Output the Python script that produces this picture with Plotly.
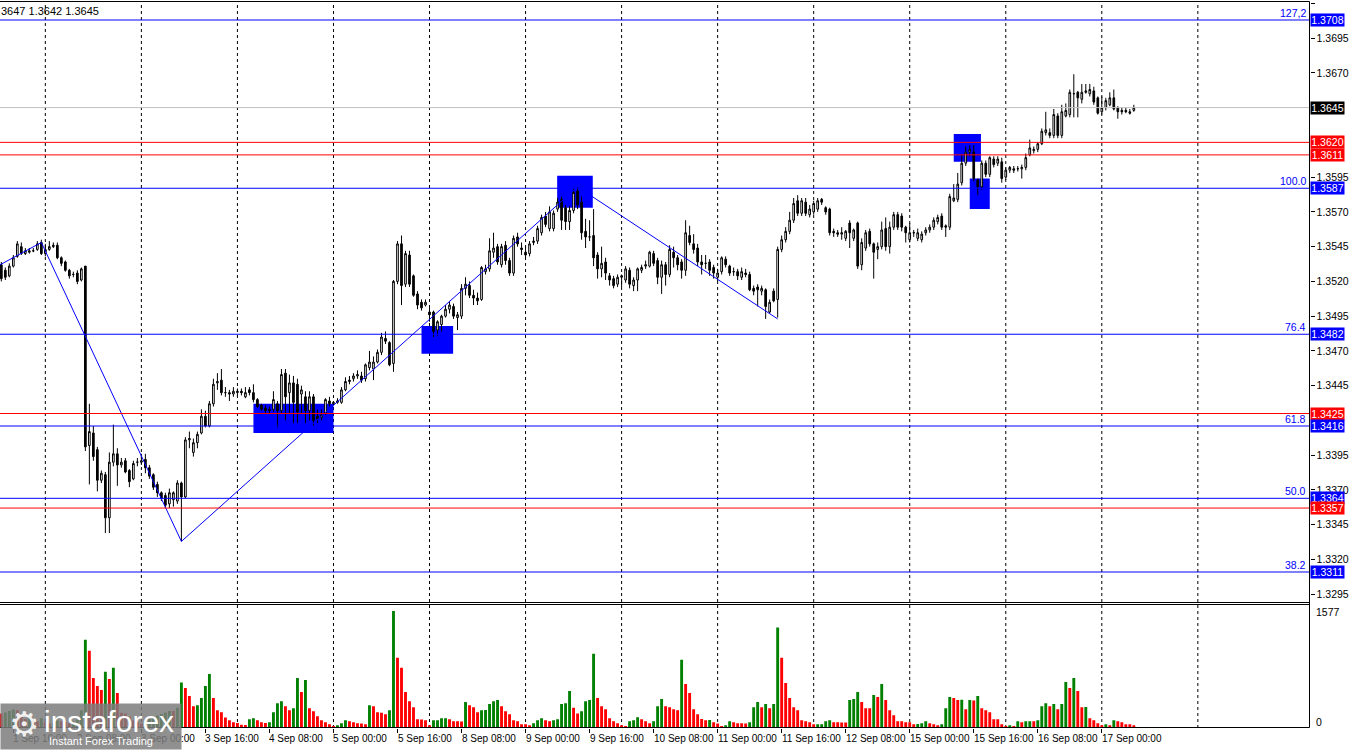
import plotly.graph_objects as go

# ---------------- data (H1 bars, index 0 = 2 Sep 00:00) ----------------
first_bar = -11

opens = [
    1.3532,1.3528,1.3524,1.3531,1.3538,1.3545,1.3540,1.3541,1.3542,1.3543,
    1.3548,1.3540,1.3543,1.3545,1.3546,1.3537,1.3534,1.3528,1.3525,1.3526,
    1.3521,1.3531,1.3402,1.3411,1.3399,1.3377,1.3381,1.3350,1.3390,1.3396,
    1.3388,1.3391,1.3384,1.3378,1.3390,1.3390,1.3392,1.3386,1.3381,1.3374,
    1.3368,1.3366,1.3360,1.3363,1.3362,1.3375,1.3365,1.3406,1.3397,1.3404,
    1.3411,1.3423,1.3416,1.3432,1.3447,1.3449,1.3440,1.3440,1.3439,1.3440,
    1.3441,1.3437,1.3442,1.3440,1.3435,1.3431,1.3429,1.3428,1.3428,1.3432,
    1.3427,1.3454,1.3440,1.3447,1.3446,1.3439,1.3437,1.3427,1.3437,1.3423,
    1.3422,1.3425,1.3434,1.3432,1.3433,1.3433,1.3442,1.3448,1.3450,1.3452,
    1.3452,1.3450,1.3458,1.3457,1.3462,1.3469,1.3479,1.3476,1.3461,1.3520,
    1.3547,1.3518,1.3539,1.3524,1.3511,1.3505,1.3503,1.3498,1.3498,1.3485,
    1.3489,1.3495,1.3500,1.3502,1.3494,1.3495,1.3515,1.3517,1.3510,1.3508,
    1.3507,1.3527,1.3529,1.3541,1.3545,1.3532,1.3546,1.3535,1.3526,1.3552,
    1.3544,1.3541,1.3540,1.3548,1.3549,1.3555,1.3567,1.3558,1.3558,1.3572,
    1.3579,1.3573,1.3563,1.3571,1.3585,1.3577,1.3556,1.3552,1.3553,1.3539,
    1.3529,1.3534,1.3524,1.3522,1.3518,1.3523,1.3521,1.3528,1.3517,1.3521,
    1.3528,1.3531,1.3531,1.3540,1.3535,1.3523,1.3532,1.3525,1.3541,1.3537,
    1.3534,1.3528,1.3553,1.3547,1.3544,1.3534,1.3533,1.3534,1.3530,1.3523,
    1.3527,1.3536,1.3531,1.3527,1.3527,1.3523,1.3526,1.3525,1.3515,1.3516,
    1.3513,1.3514,1.3498,1.3513,1.3507,1.3543,1.3550,1.3556,1.3564,1.3578,
    1.3569,1.3577,1.3568,1.3570,1.3572,1.3579,1.3573,1.3572,1.3556,1.3555,
    1.3554,1.3551,1.3562,1.3551,1.3562,1.3532,1.3544,1.3556,1.3547,1.3543,
    1.3545,1.3558,1.3545,1.3559,1.3568,1.3567,1.3559,1.3550,1.3555,1.3551,
    1.3550,1.3555,1.3557,1.3559,1.3563,1.3567,1.3560,1.3559,1.3578,1.3579,
    1.3591,1.3605,1.3613,1.3613,1.3593,1.3588,1.3605,1.3597,1.3608,1.3605,
    1.3606,1.3595,1.3600,1.3601,1.3601,1.3601,1.3602,1.3611,1.3614,1.3615,
    1.3619,1.3627,1.3627,1.3625,1.3639,1.3625,1.3639,1.3640,1.3655,1.3656,
    1.3651,1.3656,1.3655,1.3657,1.3652,1.3642,1.3645,1.3647,1.3652,1.3645,
    1.3643,1.3643,1.3642,1.3643,
]
highs = [
    1.3534,1.3530,1.3533,1.3539,1.3549,1.3548,1.3544,1.3544,1.3544,1.3549,
    1.3550,1.3547,1.3549,1.3548,1.3548,1.3538,1.3535,1.3529,1.3527,1.3528,
    1.3530,1.3531,1.3432,1.3416,1.3401,1.3384,1.3383,1.3397,1.3417,1.3400,
    1.3393,1.3393,1.3385,1.3391,1.3393,1.3396,1.3396,1.3388,1.3382,1.3376,
    1.3369,1.3368,1.3371,1.3369,1.3377,1.3376,1.3408,1.3412,1.3407,1.3412,
    1.3428,1.3427,1.3434,1.3450,1.3454,1.3457,1.3444,1.3442,1.3444,1.3443,
    1.3443,1.3444,1.3444,1.3446,1.3436,1.3432,1.3431,1.3430,1.3441,1.3434,
    1.3457,1.3457,1.3453,1.3452,1.3450,1.3445,1.3441,1.3441,1.3439,1.3428,
    1.3428,1.3436,1.3437,1.3434,1.3436,1.3444,1.3451,1.3452,1.3454,1.3456,
    1.3455,1.3461,1.3470,1.3466,1.3471,1.3483,1.3484,1.3477,1.3521,1.3549,
    1.3553,1.3542,1.3542,1.3525,1.3513,1.3507,1.3507,1.3503,1.3499,1.3492,
    1.3496,1.3503,1.3506,1.3504,1.3498,1.3518,1.3523,1.3520,1.3514,1.3512,
    1.3531,1.3532,1.3551,1.3555,1.3547,1.3547,1.3549,1.3537,1.3553,1.3555,
    1.3548,1.3545,1.3549,1.3552,1.3560,1.3568,1.3570,1.3574,1.3571,1.3580,
    1.3581,1.3575,1.3574,1.3587,1.3588,1.3581,1.3565,1.3564,1.3572,1.3541,
    1.3545,1.3537,1.3526,1.3524,1.3525,1.3525,1.3531,1.3530,1.3523,1.3530,
    1.3532,1.3535,1.3542,1.3542,1.3537,1.3535,1.3534,1.3546,1.3545,1.3539,
    1.3536,1.3564,1.3560,1.3554,1.3547,1.3539,1.3539,1.3536,1.3532,1.3529,
    1.3538,1.3538,1.3532,1.3530,1.3529,1.3530,1.3529,1.3527,1.3517,1.3518,
    1.3517,1.3515,1.3507,1.3515,1.3545,1.3553,1.3559,1.3570,1.3580,1.3582,
    1.3580,1.3580,1.3575,1.3578,1.3580,1.3580,1.3574,1.3573,1.3558,1.3557,
    1.3559,1.3557,1.3564,1.3558,1.3563,1.3551,1.3557,1.3558,1.3548,1.3548,
    1.3563,1.3566,1.3563,1.3570,1.3570,1.3569,1.3560,1.3562,1.3557,1.3558,
    1.3556,1.3559,1.3561,1.3566,1.3568,1.3569,1.3561,1.3583,1.3590,1.3598,
    1.3611,1.3617,1.3618,1.3618,1.3594,1.3607,1.3607,1.3610,1.3610,1.3610,
    1.3609,1.3602,1.3603,1.3603,1.3603,1.3604,1.3612,1.3622,1.3617,1.3620,
    1.3630,1.3642,1.3630,1.3644,1.3641,1.3647,1.3648,1.3658,1.3669,1.3657,
    1.3662,1.3662,1.3662,1.3660,1.3653,1.3653,1.3652,1.3656,1.3658,1.3646,
    1.3645,1.3645,1.3644,1.3647,
]
lows = [
    1.3520,1.3521,1.3523,1.3530,1.3537,1.3539,1.3539,1.3540,1.3541,1.3542,
    1.3539,1.3538,1.3542,1.3544,1.3536,1.3531,1.3527,1.3522,1.3523,1.3518,
    1.3520,1.3398,1.3374,1.3391,1.3369,1.3375,1.3339,1.3339,1.3387,1.3373,
    1.3386,1.3382,1.3372,1.3377,1.3387,1.3388,1.3382,1.3378,1.3370,1.3365,
    1.3362,1.3357,1.3357,1.3358,1.3360,1.3333,1.3364,1.3400,1.3394,1.3400,
    1.3410,1.3415,1.3415,1.3430,1.3442,1.3438,1.3437,1.3434,1.3437,1.3438,
    1.3438,1.3436,1.3438,1.3433,1.3429,1.3427,1.3425,1.3425,1.3426,1.3415,
    1.3425,1.3420,1.3425,1.3418,1.3418,1.3425,1.3418,1.3420,1.3416,1.3418,
    1.3420,1.3424,1.3430,1.3431,1.3432,1.3432,1.3441,1.3446,1.3448,1.3450,
    1.3447,1.3448,1.3456,1.3449,1.3461,1.3467,1.3475,1.3459,1.3455,1.3518,
    1.3503,1.3516,1.3516,1.3509,1.3500,1.3499,1.3502,1.3491,1.3480,1.3481,
    1.3484,1.3494,1.3497,1.3493,1.3485,1.3493,1.3510,1.3508,1.3503,1.3503,
    1.3506,1.3525,1.3527,1.3537,1.3532,1.3530,1.3532,1.3524,1.3524,1.3545,
    1.3539,1.3537,1.3538,1.3546,1.3547,1.3553,1.3559,1.3556,1.3556,1.3570,
    1.3557,1.3557,1.3557,1.3569,1.3572,1.3550,1.3544,1.3549,1.3531,1.3522,
    1.3523,1.3521,1.3517,1.3515,1.3516,1.3516,1.3519,1.3515,1.3513,1.3513,
    1.3526,1.3529,1.3530,1.3531,1.3518,1.3511,1.3517,1.3523,1.3530,1.3528,
    1.3522,1.3524,1.3546,1.3540,1.3531,1.3525,1.3529,1.3524,1.3522,1.3520,
    1.3525,1.3530,1.3524,1.3524,1.3521,1.3521,1.3523,1.3513,1.3510,1.3502,
    1.3510,1.3493,1.3497,1.3505,1.3494,1.3541,1.3548,1.3554,1.3562,1.3567,
    1.3567,1.3567,1.3566,1.3568,1.3570,1.3575,1.3568,1.3553,1.3552,1.3552,
    1.3550,1.3549,1.3544,1.3549,1.3529,1.3528,1.3542,1.3545,1.3522,1.3536,
    1.3543,1.3542,1.3540,1.3557,1.3557,1.3556,1.3548,1.3548,1.3552,1.3549,
    1.3548,1.3553,1.3555,1.3557,1.3561,1.3557,1.3552,1.3557,1.3577,1.3577,
    1.3589,1.3603,1.3610,1.3592,1.3582,1.3586,1.3595,1.3595,1.3602,1.3603,
    1.3591,1.3593,1.3598,1.3598,1.3599,1.3594,1.3600,1.3610,1.3612,1.3613,
    1.3618,1.3625,1.3623,1.3623,1.3623,1.3623,1.3638,1.3638,1.3638,1.3638,
    1.3648,1.3655,1.3653,1.3647,1.3640,1.3640,1.3643,1.3646,1.3643,1.3637,
    1.3640,1.3641,1.3640,1.3642,
]
closes = [
    1.3522,1.3523,1.3531,1.3537,1.3547,1.3540,1.3542,1.3542,1.3542,1.3547,
    1.3540,1.3543,1.3545,1.3546,1.3537,1.3533,1.3528,1.3524,1.3525,1.3520,
    1.3529,1.3401,1.3412,1.3394,1.3377,1.3382,1.3350,1.3390,1.3396,1.3388,
    1.3390,1.3383,1.3376,1.3389,1.3390,1.3391,1.3386,1.3380,1.3372,1.3368,
    1.3364,1.3359,1.3368,1.3368,1.3375,1.3365,1.3406,1.3407,1.3404,1.3410,
    1.3423,1.3416,1.3432,1.3446,1.3448,1.3440,1.3440,1.3439,1.3441,1.3441,
    1.3440,1.3440,1.3440,1.3435,1.3430,1.3428,1.3427,1.3427,1.3435,1.3427,
    1.3453,1.3437,1.3447,1.3433,1.3426,1.3442,1.3427,1.3437,1.3420,1.3421,
    1.3424,1.3435,1.3432,1.3433,1.3434,1.3442,1.3448,1.3449,1.3452,1.3453,
    1.3449,1.3460,1.3462,1.3462,1.3469,1.3480,1.3477,1.3460,1.3520,1.3547,
    1.3517,1.3540,1.3518,1.3510,1.3503,1.3501,1.3505,1.3496,1.3484,1.3491,
    1.3495,1.3500,1.3503,1.3495,1.3496,1.3515,1.3518,1.3510,1.3508,1.3506,
    1.3530,1.3529,1.3542,1.3544,1.3534,1.3545,1.3535,1.3526,1.3551,1.3547,
    1.3543,1.3539,1.3547,1.3549,1.3558,1.3566,1.3561,1.3570,1.3569,1.3577,
    1.3564,1.3563,1.3571,1.3584,1.3575,1.3555,1.3552,1.3552,1.3537,1.3529,
    1.3533,1.3526,1.3521,1.3517,1.3523,1.3524,1.3529,1.3518,1.3521,1.3529,
    1.3530,1.3532,1.3541,1.3533,1.3523,1.3532,1.3525,1.3543,1.3537,1.3532,
    1.3528,1.3555,1.3548,1.3543,1.3534,1.3532,1.3533,1.3528,1.3526,1.3526,
    1.3537,1.3532,1.3526,1.3527,1.3524,1.3527,1.3525,1.3514,1.3513,1.3514,
    1.3515,1.3502,1.3505,1.3506,1.3543,1.3550,1.3556,1.3564,1.3576,1.3569,
    1.3578,1.3569,1.3572,1.3576,1.3578,1.3577,1.3570,1.3555,1.3555,1.3554,
    1.3555,1.3556,1.3555,1.3557,1.3531,1.3548,1.3555,1.3547,1.3541,1.3545,
    1.3557,1.3545,1.3559,1.3568,1.3559,1.3559,1.3555,1.3555,1.3555,1.3555,
    1.3554,1.3557,1.3559,1.3564,1.3566,1.3559,1.3559,1.3581,1.3580,1.3590,
    1.3605,1.3613,1.3615,1.3594,1.3588,1.3605,1.3597,1.3609,1.3604,1.3608,
    1.3594,1.3600,1.3602,1.3600,1.3601,1.3602,1.3609,1.3616,1.3615,1.3619,
    1.3628,1.3629,1.3625,1.3640,1.3625,1.3642,1.3643,1.3656,1.3655,1.3652,
    1.3656,1.3657,1.3658,1.3649,1.3641,1.3645,1.3650,1.3652,1.3644,1.3642,
    1.3642,1.3642,1.3641,1.3645,
]
volumes = [
    195,210,230,250,240,160,120,140,110,90,130,
    80,60,70,100,90,80,70,90,110,240,
    1191,1042,675,566,512,757,661,811,471,204,
    195,150,104,82,59,100,120,150,170,190,
    210,230,228,272,612,539,430,294,308,403,
    566,729,403,240,213,140,104,77,68,45,
    40,118,131,104,77,68,77,213,335,362,
    294,240,267,675,485,648,267,226,159,104,
    77,50,23,36,63,104,91,77,63,62,
    50,308,294,213,204,186,240,1577,947,811,
    485,362,281,118,115,104,36,104,105,131,
    132,118,91,90,89,349,308,281,213,240,
    241,322,362,376,294,226,186,104,91,50,
    49,36,63,104,131,104,91,104,118,322,
    335,498,272,195,226,362,376,1001,403,294,
    254,131,91,63,36,23,91,104,145,118,
    91,63,91,294,390,294,281,254,240,920,
    594,471,254,186,120,104,108,77,60,23,
    36,91,77,64,63,62,77,281,349,281,
    322,267,322,1355,947,607,403,281,240,104,
    91,77,50,51,52,91,104,77,76,75,
    74,376,390,485,349,267,266,444,417,594,
    376,240,172,91,90,77,76,50,54,63,
    91,63,50,36,50,267,417,403,376,380,
    254,376,370,430,267,240,213,118,117,50,
    23,36,23,91,77,91,92,90,104,294,
    335,294,322,254,322,621,539,675,498,281,
    282,131,104,63,36,50,36,104,91,77,
    50,49,36,
]

label_bars = [-8, 8, 24, 40, 56, 72, 88, 104, 120, 136, 152, 168, 184, 200, 216, 232, 248, 264]
label_texts = ["1 Sep 16:00", "2 Sep 08:00", "3 Sep 00:00", "3 Sep 16:00", "4 Sep 08:00",
               "5 Sep 00:00", "5 Sep 16:00", "8 Sep 08:00", "9 Sep 00:00", "9 Sep 16:00",
               "10 Sep 08:00", "11 Sep 00:00", "11 Sep 16:00", "12 Sep 08:00",
               "15 Sep 00:00", "15 Sep 16:00", "16 Sep 08:00", "17 Sep 00:00"]
grid_bars = [0, 24, 48, 72, 96, 120, 144, 168, 192, 216, 240, 264, 288]

price_ticks = [1.3295, 1.3320, 1.3345, 1.3370, 1.3395, 1.3420, 1.3445, 1.3470, 1.3495,
               1.3520, 1.3545, 1.3570, 1.3595, 1.3620, 1.3645, 1.3670, 1.3695, 1.3720]
# tick labels that sit under a level box are not shown in the reference
hidden_ticks = [1.3420, 1.3620, 1.3645]

# horizontal levels: (price, colour)
level_prices = [1.3708, 1.3645, 1.3620, 1.3611, 1.3587, 1.3482, 1.3425, 1.3416, 1.3364, 1.3357, 1.3311]
level_colors = ["#0000ff", "#c0c0c0", "#ff0000", "#ff0000", "#0000ff", "#0000ff",
                "#ff0000", "#0000ff", "#0000ff", "#ff0000", "#0000ff"]
label_bg = ["#0000ff", "#000000", "#ff0000", "#ff0000", "#0000ff", "#0000ff",
            "#ff0000", "#0000ff", "#0000ff", "#ff0000", "#0000ff"]

fib_texts = ["127,2", "100.0", "76.4", "61.8", "50.0", "38.2"]
fib_prices = [1.3708, 1.3587, 1.3482, 1.3416, 1.3364, 1.3311]

# zigzag (bar, price)
zig_bars = [-11.3, -1, 34, 133, 183]
zig_prices = [1.3532, 1.3548, 1.3333, 1.3588, 1.3493]

# blue zones: bar from, bar to, price low, price high
zone_bar0 = [52.0, 94.0, 127.9, 227.0, 231.0]
zone_bar1 = [72.0, 101.9, 136.8, 233.8, 236.0]
zone_lo = [1.3411, 1.3468, 1.3573, 1.3606, 1.3572]
zone_hi = [1.3432, 1.3488, 1.3596, 1.3626, 1.3594]

header_text = "3647 1.3642 1.3645"
vol_max_label = "1577"

# ---------------- figure ----------------
W, H = 1350, 750
AX_X = 1309.5 / W
X_RANGE = [-11.33, 315.9]
P_DOM = [(750 - 602) / 750, (750 - 2) / 750]
V_DOM = [(750 - 728) / 750, (750 - 605) / 750]
P_RANGE = [1.328943, 1.372095]
V_RANGE = [0, 1658]
FONT = "Liberation Sans, Arial, sans-serif"


def py(pixel_row):
    return (H - pixel_row) / H


bars = list(range(first_bar, first_bar + len(closes)))
vol_colors = ["#ff0000"]
for i in range(1, len(volumes)):
    vol_colors.append("#008000" if volumes[i] > volumes[i - 1] else "#ff0000")

fig = go.Figure()
fig.add_trace(go.Candlestick(
    x=bars, open=opens, high=highs, low=lows, close=closes,
    increasing=dict(line=dict(color="black", width=1), fillcolor="white"),
    decreasing=dict(line=dict(color="black", width=1), fillcolor="black"),
    whiskerwidth=0, hoverinfo="skip", showlegend=False, xaxis="x", yaxis="y"))
fig.add_trace(go.Scatter(x=zig_bars, y=zig_prices, mode="lines",
                         line=dict(color="#0000ff", width=1), hoverinfo="skip",
                         showlegend=False, xaxis="x", yaxis="y"))
fig.add_trace(go.Bar(x=bars, y=volumes, marker=dict(color=vol_colors, line=dict(width=0)),
                     width=0.72, hoverinfo="skip", showlegend=False, xaxis="x2", yaxis="y2"))

shapes = []
for g in grid_bars:
    shapes.append(dict(type="line", xref="x", yref="paper", x0=g, x1=g,
                       y0=V_DOM[0], y1=P_DOM[1], layer="below",
                       line=dict(color="black", width=1, dash="3px,3px")))
for b0, b1, lo, hi in zip(zone_bar0, zone_bar1, zone_lo, zone_hi):
    shapes.append(dict(type="rect", xref="x", yref="y", x0=b0, x1=b1, y0=lo, y1=hi,
                       fillcolor="#0000ff", line=dict(width=0), layer="below"))
for p, c in zip(level_prices, level_colors):
    shapes.append(dict(type="line", xref="paper", yref="y", x0=0, x1=AX_X, y0=p, y1=p,
                       line=dict(color=c, width=1), layer="above"))
# frame (half-pixel rows keep the 1px lines crisp)
for row in [1.5, 602.5, 604.5, 727.5]:
    shapes.append(dict(type="line", xref="paper", yref="paper", x0=0, x1=AX_X,
                       y0=py(row), y1=py(row), line=dict(color="black", width=1), layer="above"))
shapes.append(dict(type="line", xref="paper", yref="paper", x0=AX_X, x1=AX_X,
                   y0=py(727.5), y1=py(1.5), line=dict(color="black", width=1), layer="above"))

ann = []
for b, t in zip(label_bars, label_texts):
    ann.append(dict(x=b, xref="x", y=py(738), yref="paper", text=t,
                    xanchor="left", yanchor="middle", showarrow=False, xshift=-2,
                    font=dict(family=FONT, size=10, color="black")))
for p, bg in zip(level_prices, label_bg):
    ann.append(dict(x=1310 / W, xref="paper", y=p, yref="y", text=f"{p:.4f}",
                    xanchor="left", yanchor="middle", showarrow=False,
                    bgcolor=bg, width=33, height=12, borderpad=0, align="center",
                    font=dict(family=FONT, size=10.5, color="white")))
for t, p in zip(fib_texts, fib_prices):
    ann.append(dict(x=1307 / W, xref="paper", y=p, yref="y", text=t,
                    xanchor="right", yanchor="bottom", showarrow=False, borderpad=0,
                    font=dict(family=FONT, size=10.5, color="#0000ff")))
ann.append(dict(x=0, xref="paper", y=py(11), yref="paper", text=header_text,
                xanchor="left", yanchor="middle", showarrow=False, xshift=-1,
                font=dict(family=FONT, size=11, color="black")))
ann.append(dict(x=1314 / W, xref="paper", y=py(612), yref="paper", text=vol_max_label,
                xanchor="left", yanchor="middle", showarrow=False,
                font=dict(family=FONT, size=10.5, color="black")))
ann.append(dict(x=1314 / W, xref="paper", y=py(722), yref="paper", text="0",
                xanchor="left", yanchor="middle", showarrow=False,
                font=dict(family=FONT, size=10.5, color="black")))
# watermark logo
ann.append(dict(x=0, xref="paper", y=0, yref="paper", text=" ", xanchor="left",
                yanchor="bottom", showarrow=False, width=180, height=45, borderpad=0,
                bgcolor="rgba(125,125,125,0.85)"))
ann.append(dict(x=24 / W, xref="paper", y=py(724), yref="paper", text="⚙",
                xanchor="center", yanchor="middle", showarrow=False,
                font=dict(family="DejaVu Sans", size=34, color="rgba(255,255,255,0.9)")))
ann.append(dict(x=42 / W, xref="paper", y=py(721), yref="paper", text="instaforex",
                xanchor="left", yanchor="middle", showarrow=False,
                font=dict(family="Liberation Sans, Arial", size=30, color="white")))
ann.append(dict(x=47 / W, xref="paper", y=py(741), yref="paper",
                text="Instant Forex Trading", xanchor="left", yanchor="middle", showarrow=False,
                font=dict(family="Liberation Sans, Arial", size=11, color="white")))

fig.update_layout(
    width=W, height=H, autosize=False,
    margin=dict(l=0, r=0, t=0, b=0, pad=0),
    paper_bgcolor="white", plot_bgcolor="white",
    showlegend=False, boxgap=0.4, bargap=0.25,
    xaxis=dict(domain=[0, AX_X], range=X_RANGE, anchor="y", showgrid=False,
               showticklabels=False, ticks="", zeroline=False, showline=False,
               rangeslider=dict(visible=False), fixedrange=True),
    xaxis2=dict(domain=[0, AX_X], range=X_RANGE, anchor="y2", matches="x",
                showgrid=False, showticklabels=False, ticks="outside", ticklen=4,
                tickcolor="black", tickvals=label_bars, zeroline=False, showline=False),
    yaxis=dict(domain=P_DOM, range=P_RANGE, side="right", anchor="x", showgrid=False,
               zeroline=False, showline=False, ticks="outside", ticklen=4,
               tickcolor="black", tickvals=price_ticks,
               ticktext=["" if t in hidden_ticks else f"{t:.4f}" for t in price_ticks],
               tickfont=dict(family=FONT, size=10.5, color="black")),
    yaxis2=dict(domain=V_DOM, range=V_RANGE, side="right", anchor="x2", showgrid=False,
                zeroline=False, showline=False, showticklabels=False, ticks=""),
    shapes=shapes, annotations=ann,
)

fig.write_html(
    "out.html",
    config={"displayModeBar": False},
    post_script="document.body.style.margin='0';document.body.style.padding='0';"
                "document.body.style.overflow='hidden';",
)
